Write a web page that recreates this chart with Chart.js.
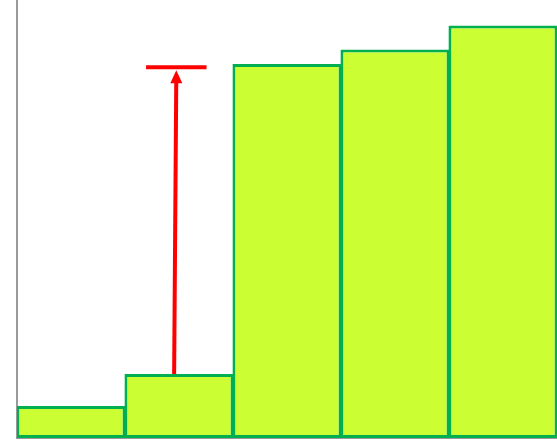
<!DOCTYPE html>
<html>
<head>
<meta charset="utf-8">
<script src="https://cdn.jsdelivr.net/npm/chart.js@4"></script>
<style>
  html, body { margin: 0; padding: 0; background: #fff; }
  #wrap { width: 557px; height: 440px; }
</style>
</head>
<body>
<div id="wrap"><canvas id="chart"></canvas></div>
<script>
const categories = ['A', 'B', 'C', 'D', 'E']
const values = [1, 2, 11.7, 12.15, 12.9]
const yMax = 13.7

// red arrow: starts at top of bar B, goes up to the cap
const arrowFrom = { x: 0.955, y: 2 }
const arrowTo = { x: 0.975, y: 11.6 }
const capHalf = 0.28

const arrowPlugin = {
    id: 'arrow',
    afterDatasetsDraw(chart) {
        const { ctx, scales: { x, y } } = chart
        const x0 = x.getPixelForValue(arrowFrom.x)
        const y0 = y.getPixelForValue(arrowFrom.y)
        const x1 = x.getPixelForValue(arrowTo.x)
        const y1 = y.getPixelForValue(arrowTo.y)
        ctx.save()
        ctx.strokeStyle = '#ff0000'
        ctx.fillStyle = '#ff0000'
        ctx.lineWidth = 4
        ctx.beginPath()
        ctx.moveTo(x0, y0)
        ctx.lineTo(x1, y1 + 8)
        ctx.stroke()
        // cap
        ctx.beginPath()
        ctx.moveTo(x.getPixelForValue(arrowTo.x - capHalf), y1)
        ctx.lineTo(x.getPixelForValue(arrowTo.x + capHalf), y1)
        ctx.stroke()
        // arrow head
        ctx.beginPath()
        ctx.moveTo(x1, y1 + 3)
        ctx.lineTo(x1 - 6, y1 + 16)
        ctx.lineTo(x1 + 6, y1 + 16)
        ctx.closePath()
        ctx.fill()
        ctx.restore()
    }
}

new Chart(document.getElementById('chart'), {
    type: 'bar',
    data: {
        labels: categories,
        datasets: [{
            data: values,
            backgroundColor: '#ccff33',
            borderColor: '#00b050',
            borderWidth: 3,
            borderSkipped: false,
            inflateAmount: 0,
            categoryPercentage: 1,
            barPercentage: 1.01
        }]
    },
    options: {
        responsive: true,
        maintainAspectRatio: false,
        animation: false,
        layout: { padding: { left: 17, top: 0, right: 0, bottom: 2 } },
        plugins: { legend: { display: false }, tooltip: { enabled: false } },
        scales: {
            x: {
                ticks: { display: false, padding: 0 },
                grid: { display: false },
                border: { display: true, color: '#999999', width: 2 },
                afterFit(scale) { scale.height = 0 }
            },
            y: {
                min: 0,
                max: yMax,
                ticks: { display: false, padding: 0 },
                grid: { display: false },
                border: { display: true, color: '#999999', width: 2 },
                afterFit(scale) { scale.width = 0 }
            }
        }
    },
    plugins: [arrowPlugin]
})
</script>
</body>
</html>
